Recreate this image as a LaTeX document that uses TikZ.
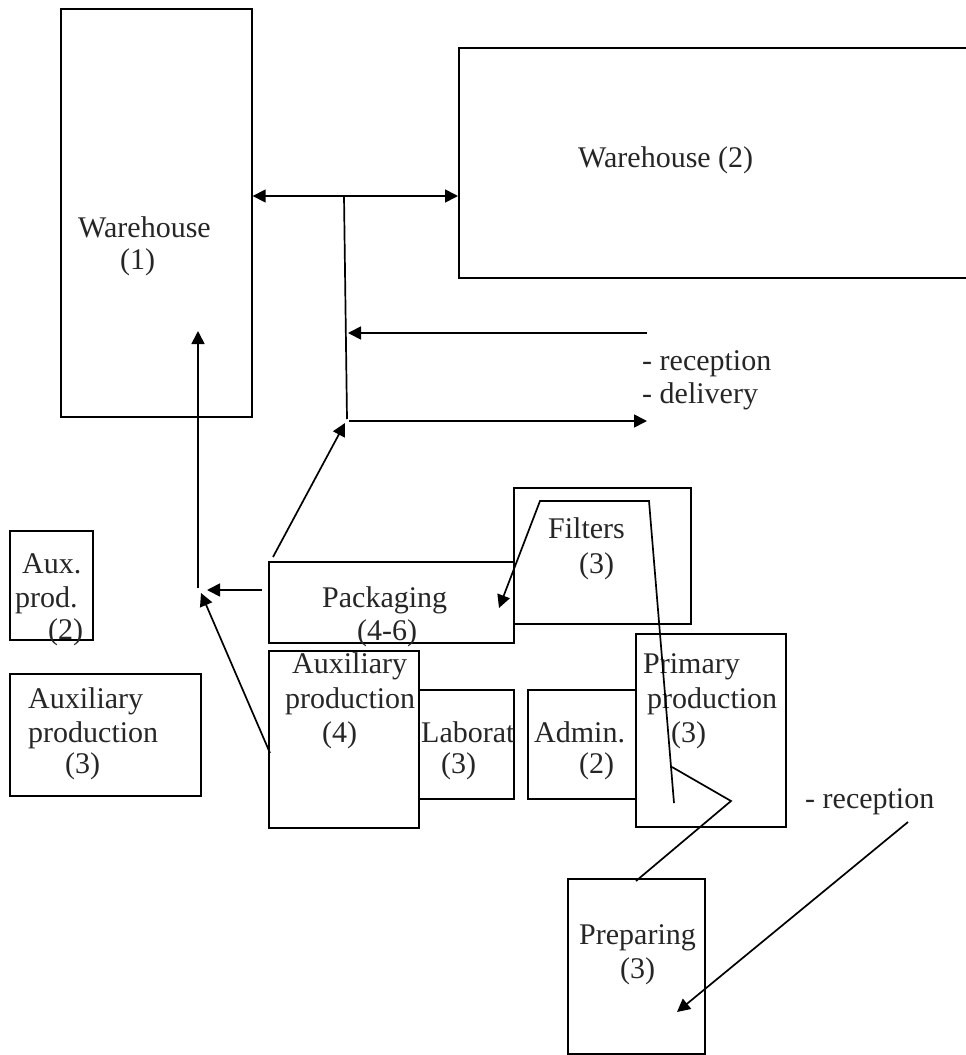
\documentclass[tikz,border=0pt]{standalone}
\usepackage{fontspec}
\setmainfont{Liberation Serif}
\usetikzlibrary{arrows.meta}

\tikzset{
  box/.style={draw, line width=1.7pt, rectangle, inner sep=0pt, anchor=north west},
  lbl/.style={anchor=base west, inner sep=0pt, text=black!85, font=\fontsize{30}{33}\selectfont},
  flow/.style={line width=1.7pt},
  arr/.style={flow, -{Triangle[length=13pt,width=13pt]}},
  darr/.style={flow, {Triangle[length=13pt,width=13pt]}-{Triangle[length=13pt,width=13pt]}}
}

\begin{document}
\begin{tikzpicture}[x=1pt, y=-1pt]
\useasboundingbox (0,0) rectangle (966,1055);
\clip (0,0) rectangle (966,1055);

% departments
\node[box, minimum width=191, minimum height=408] (wh1) at (60,8) {};
\node[box, minimum width=530, minimum height=230] (wh2) at (458,47) {};
\node[box, minimum width=83,  minimum height=109] (auxtwo) at (9,530) {};
\node[box, minimum width=191, minimum height=122] (auxthree) at (9,673) {};
\node[box, minimum width=245, minimum height=81]  (pack) at (268,561) {};
\node[box, minimum width=177, minimum height=136] (filt) at (513,487) {};
\node[box, minimum width=150, minimum height=177] (auxfour) at (268,650) {};
\node[box, minimum width=95,  minimum height=109] (lab) at (418,689) {};
\node[box, minimum width=108, minimum height=109] (adm) at (527,689) {};
\node[box, minimum width=150, minimum height=193] (prim) at (635,633) {};
\node[box, minimum width=137, minimum height=175] (prep) at (567,878) {};

% labels
\node[lbl] (l1a) at (78,237) {Warehouse};
\node[lbl] (l1b) at (120,269) {(1)};
\node[lbl] (l2) at (578,167) {Warehouse (2)};
\node[lbl] (rd1) at (642,370) {- reception};
\node[lbl] (rd2) at (642,403) {- delivery};
\node[lbl] (a2a) at (22,573) {Aux.};
\node[lbl] (a2b) at (15,607) {prod.};
\node[lbl] (a2c) at (48,639) {(2)};
\node[lbl] (a3a) at (28,708) {Auxiliary};
\node[lbl] (a3b) at (28,742) {production};
\node[lbl] (a3c) at (65,773) {(3)};
\node[lbl] (pka) at (322,607) {Packaging};
\node[lbl] (pkb) at (357,640) {(4-6)};
\node[lbl] (a4a) at (292,673) {Auxiliary};
\node[lbl] (a4b) at (285,708) {production};
\node[lbl] (a4c) at (322,742) {(4)};
\node[lbl] (lba) at (421,742) {Laborat};
\node[lbl] (lbb) at (441,773) {(3)};
\node[lbl] (fla) at (548,538) {Filters};
\node[lbl] (flb) at (579,573) {(3)};
\node[lbl] (ada) at (534,742) {Admin.};
\node[lbl] (adb) at (579,773) {(2)};
\node[lbl] (pra) at (643,673) {Primary};
\node[lbl] (prb) at (647,708) {production};
\node[lbl] (prc) at (671,742) {(3)};
\node[lbl] (rc) at (805,808) {- reception};
\node[lbl] (ppa) at (579,944) {Preparing};
\node[lbl] (ppb) at (620,978) {(3)};

% connector points
\coordinate (hub) at (344,196);
\coordinate (hubend) at (347,419);
\coordinate (inS) at (647,333);
\coordinate (inE) at (348,333);
\coordinate (outS) at (349,421);
\coordinate (outE) at (647,421);
\coordinate (pkTop) at (273,557);
\coordinate (pkTip) at (345,423);
\coordinate (jn) at (198,588);
\coordinate (whIn) at (198,331);
\coordinate (pkIn) at (207,590);
\coordinate (pkOut) at (262,590);
\coordinate (axOut) at (270,753);
\coordinate (axIn) at (201,593);
\coordinate (fl1) at (674,803);
\coordinate (fl2) at (649,501);
\coordinate (fl3) at (540,501);
\coordinate (fl4) at (499,608);
\coordinate (pp1) at (672,767);
\coordinate (pp2) at (731,801);
\coordinate (pp3) at (636,881);
\coordinate (rcS) at (908,822);
\coordinate (rcE) at (677,1012);

% flows between the warehouses and the dispatch corridor
\draw[darr] (wh1.east |- hub) -- (wh2.west |- hub);
\draw[flow] (hub) -- (hubend);
\draw[arr] (inS) -- (inE);
\draw[arr] (outS) -- (outE);
\draw[arr] (pkTop) -- (pkTip);

% flows into warehouse (1)
\draw[arr] (jn) -- (whIn);
\draw[arr] (pkOut) -- (pkIn);
\draw[arr] (axOut) -- (axIn);

% production line
\draw[arr] (fl1) -- (fl2) -- (fl3) -- (fl4);
\draw[flow] (pp1) -- (pp2) -- (pp3);
\draw[arr] (rcS) -- (rcE);
\end{tikzpicture}
\end{document}
